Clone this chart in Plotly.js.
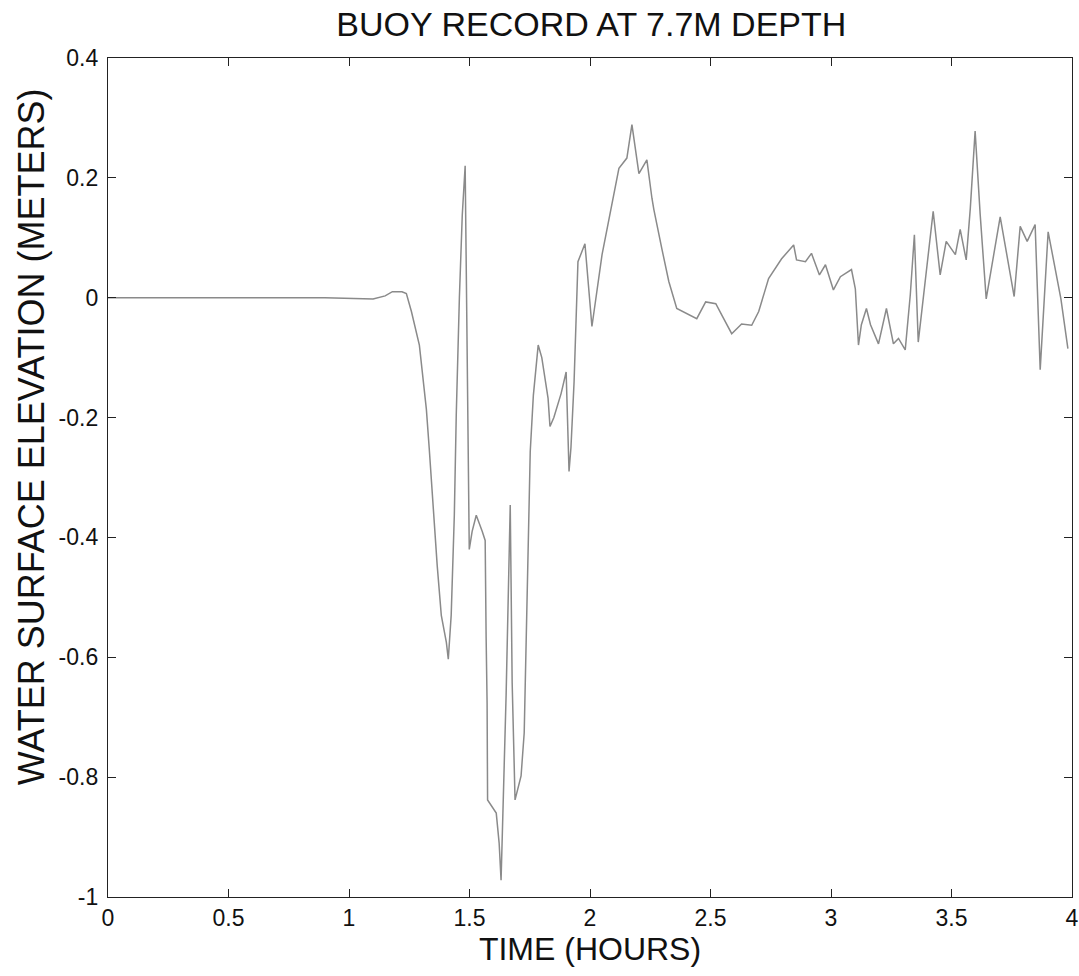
<!DOCTYPE html>
<html>
<head>
<meta charset="utf-8">
<script src="https://cdn.plot.ly/plotly-3.0.1.min.js"></script>
<style>html,body{margin:0;padding:0;background:#fff;}#chart{width:1079px;height:976px;}</style>
</head>
<body>
<div id="chart"></div>
<script>
const timeHours = [0, 0.3, 0.6, 0.9, 1.1, 1.15, 1.18, 1.22, 1.238, 1.259, 1.292, 1.304, 1.321, 1.333, 1.346, 1.354, 1.366, 1.383, 1.404, 1.412, 1.424, 1.437, 1.445, 1.458, 1.470, 1.482, 1.491, 1.499, 1.511, 1.528, 1.553, 1.565, 1.569, 1.573, 1.575, 1.611, 1.623, 1.631, 1.644, 1.652, 1.669, 1.673, 1.677, 1.689, 1.714, 1.727, 1.735, 1.743, 1.752, 1.765, 1.785, 1.80, 1.826, 1.834, 1.85, 1.88, 1.901, 1.913, 1.921, 1.934, 1.942, 1.95, 1.979, 2.0, 2.008, 2.05, 2.079, 2.091, 2.12, 2.153, 2.174, 2.203, 2.236, 2.257, 2.265, 2.298, 2.327, 2.36, 2.443, 2.48, 2.522, 2.547, 2.588, 2.629, 2.671, 2.7, 2.741, 2.795, 2.845, 2.857, 2.894, 2.919, 2.952, 2.977, 3.01, 3.039, 3.085, 3.101, 3.114, 3.126, 3.147, 3.164, 3.197, 3.23, 3.259, 3.28, 3.308, 3.329, 3.346, 3.362, 3.387, 3.424, 3.453, 3.478, 3.516, 3.536, 3.561, 3.578, 3.598, 3.619, 3.644, 3.702, 3.76, 3.785, 3.814, 3.847, 3.868, 3.901, 3.954, 3.983];
const elevation = [0, 0, 0, 0, -0.002, 0.003, 0.01, 0.01, 0.007, -0.023, -0.079, -0.124, -0.186, -0.252, -0.33, -0.363, -0.447, -0.53, -0.575, -0.603, -0.53, -0.363, -0.196, 0, 0.138, 0.22, -0.107, -0.42, -0.39, -0.363, -0.39, -0.405, -0.567, -0.676, -0.838, -0.86, -0.91, -0.972, -0.78, -0.662, -0.346, -0.53, -0.642, -0.838, -0.798, -0.726, -0.564, -0.411, -0.257, -0.163, -0.079, -0.1, -0.168, -0.215, -0.2, -0.16, -0.124, -0.29, -0.25, -0.14, -0.04, 0.06, 0.09, -0.007, -0.048, 0.072, 0.13, 0.16, 0.216, 0.233, 0.289, 0.207, 0.23, 0.166, 0.147, 0.082, 0.027, -0.018, -0.035, -0.007, -0.01, -0.029, -0.06, -0.044, -0.046, -0.023, 0.032, 0.065, 0.088, 0.063, 0.06, 0.074, 0.038, 0.055, 0.013, 0.035, 0.047, 0.015, -0.079, -0.045, -0.018, -0.045, -0.077, -0.018, -0.077, -0.068, -0.087, 0.005, 0.105, -0.074, 0.015, 0.144, 0.038, 0.094, 0.072, 0.114, 0.063, 0.149, 0.278, 0.139, -0.002, 0.135, 0.002, 0.119, 0.094, 0.122, -0.12, 0.11, -0.002, -0.085];
const xTickVals = [0, 0.5, 1, 1.5, 2, 2.5, 3, 3.5, 4];
const xTickText = ["0", "0.5", "1", "1.5", "2", "2.5", "3", "3.5", "4"];
const yTickVals = [0.4, 0.2, 0, -0.2, -0.4, -0.6, -0.8, -1];
const yTickText = ["0.4", "0.2", "0", "-0.2", "-0.4", "-0.6", "-0.8", "-1"];

const fontFam = "Liberation Sans, Arial, sans-serif";
const trace = {
  x: timeHours, y: elevation, type: 'scatter', mode: 'lines',
  line: {color: '#8a8a8a', width: 1.5}, hoverinfo: 'skip'
};
const layout = {
  width: 1079, height: 976,
  margin: {l: 108, r: 7, t: 58, b: 79},
  paper_bgcolor: '#fff', plot_bgcolor: '#fff',
  showlegend: false,
  title: {text: 'BUOY RECORD AT 7.7M DEPTH', font: {family: fontFam, size: 34, color: '#111'}, x: 0.548, xanchor: 'center', y: 0.975, yanchor: 'middle'},
  xaxis: {
    range: [0, 4], tickvals: xTickVals, ticktext: xTickText,
    ticks: 'inside', ticklen: 8, tickcolor: '#222', showline: true, linecolor: '#222', linewidth: 1.2,
    mirror: 'ticks', showgrid: false, zeroline: false, ticklabeloverflow: 'allow',
    tickfont: {family: fontFam, size: 23, color: '#111'},
    title: {text: 'TIME (HOURS)', font: {family: fontFam, size: 32, color: '#111'}, standoff: 4}
  },
  yaxis: {
    range: [-1, 0.4], tickvals: yTickVals, ticktext: yTickText,
    ticks: 'inside', ticklen: 8, tickcolor: '#222', showline: true, linecolor: '#222', linewidth: 1.2,
    mirror: 'ticks', showgrid: false, zeroline: false, ticklabeloverflow: 'allow',
    tickfont: {family: fontFam, size: 23, color: '#111'}, ticklabelstandoff: 4
  },
  annotations: [{
    text: 'WATER SURFACE ELEVATION (METERS)', textangle: -90, showarrow: false,
    xref: 'paper', x: 0, xanchor: 'center', xshift: -77,
    yref: 'paper', y: 0.548, yanchor: 'middle',
    font: {family: fontFam, size: 36, color: '#111'}
  }]
};
Plotly.newPlot('chart', [trace], layout, {staticPlot: true, displayModeBar: false});
</script>
</body>
</html>
